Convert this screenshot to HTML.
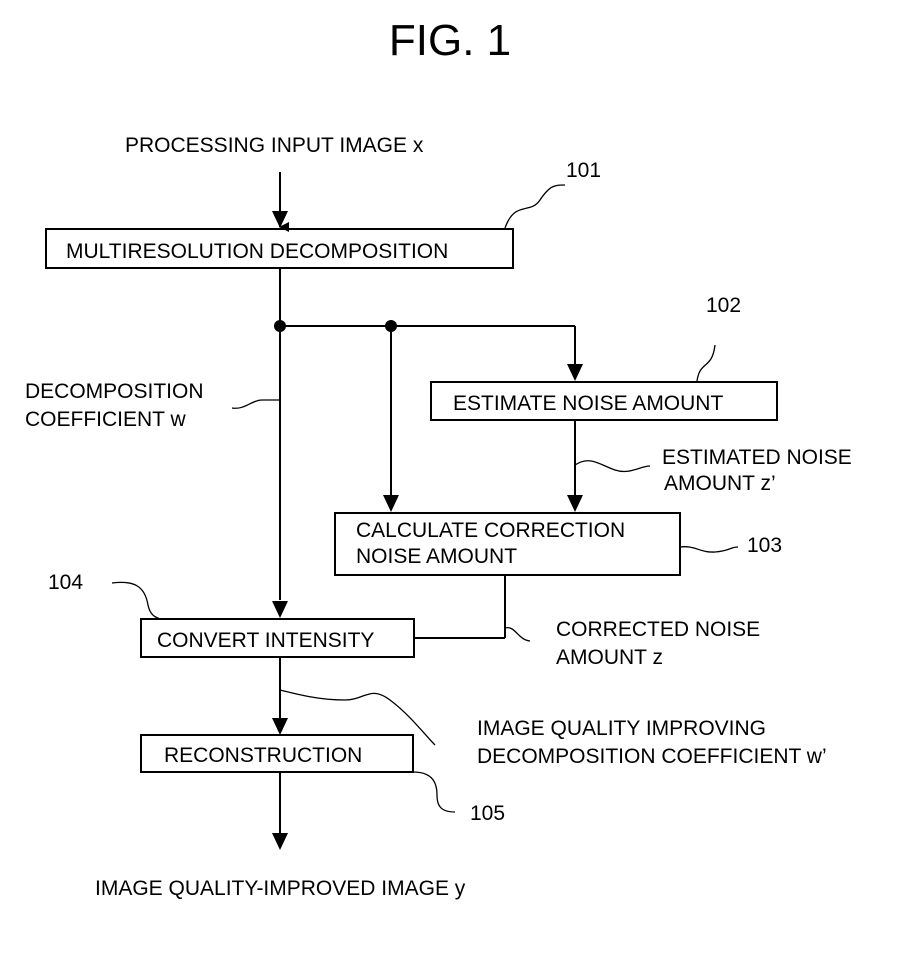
<!DOCTYPE html>
<html><head><meta charset="utf-8"><style>
body{margin:0;background:#fff;}
svg text{font-family:"Liberation Sans",sans-serif;fill:#000;}
</style></head><body>
<svg width="921" height="969" viewBox="0 0 921 969" xmlns="http://www.w3.org/2000/svg">
<defs><marker id="a" markerWidth="10" markerHeight="10" refX="5" refY="9" orient="auto" markerUnits="userSpaceOnUse"><path d="M0,0 L10,0 L5,10 z" fill="#000"/></marker></defs>
<g stroke="#000" stroke-width="2" fill="none">
<text x="450" y="55" font-size="44" text-anchor="middle" stroke="none">FIG. 1</text>
<line x1="280" y1="172" x2="280" y2="227" marker-end="url(#a)"/>
<line x1="280" y1="172" x2="280" y2="227"/>
<path d="M272,211 L288,211 L280,228z" fill="#000" stroke="none"/>
<rect x="46" y="229" width="467" height="39"/>
<line x1="280" y1="268" x2="280" y2="600"/>
<path d="M272,601 L288,601 L280,618z" fill="#000" stroke="none"/>
<line x1="280" y1="326" x2="575" y2="326"/>
<circle cx="280" cy="326" r="6" fill="#000" stroke="none"/>
<circle cx="391" cy="326" r="6" fill="#000" stroke="none"/>
<line x1="391" y1="326" x2="391" y2="495"/>
<path d="M383,495 L399,495 L391,512z" fill="#000" stroke="none"/>
<line x1="575" y1="326" x2="575" y2="364"/>
<path d="M567,364 L583,364 L575,381z" fill="#000" stroke="none"/>
<rect x="431" y="382" width="346" height="38"/>
<line x1="575" y1="420" x2="575" y2="495"/>
<path d="M567,495 L583,495 L575,512z" fill="#000" stroke="none"/>
<rect x="335" y="513" width="345" height="62"/>
<line x1="505" y1="575" x2="505" y2="638"/>
<line x1="505" y1="638" x2="414" y2="638"/>
<rect x="141" y="619" width="273" height="38"/>
<line x1="280" y1="657" x2="280" y2="718"/>
<path d="M272,718 L288,718 L280,735z" fill="#000" stroke="none"/>
<rect x="141" y="735" width="272" height="37"/>
<line x1="280" y1="772" x2="280" y2="833"/>
<path d="M272,833 L288,833 L280,850z" fill="#000" stroke="none"/>
<g stroke-width="1.3">
<path d="M505,228 C515,200 530,215 540,200 S555,185 565,185"/>
<path d="M232,408 C245,410 252,400 262,400 S272,400 280,400"/>
<path d="M697,381 C700,360 712,370 715,345"/>
<path d="M575,465 C590,455 600,465 615,470 C630,475 640,466 650,466"/>
<path d="M680,547 C695,545 700,553 715,552 S730,547 738,547"/>
<path d="M505,628 C515,625 518,640 530,641"/>
<path d="M112,583 C135,580 145,587 148,605 C150,615 155,617 160,619"/>
<path d="M280,690 C300,695 320,700 345,700 C365,700 370,685 390,700 C410,715 425,735 435,745"/>
<path d="M413,772 C430,772 437,780 437,795 C437,805 440,812 455,812"/>
</g>
</g>
<g font-size="21">
<text x="125" y="152">PROCESSING INPUT IMAGE x</text>
<text x="566" y="177">101</text>
<text x="66" y="258">MULTIRESOLUTION DECOMPOSITION</text>
<text x="706" y="312">102</text>
<text x="25" y="398">DECOMPOSITION</text>
<text x="25" y="426">COEFFICIENT w</text>
<text x="453" y="410">ESTIMATE NOISE AMOUNT</text>
<text x="662" y="464">ESTIMATED NOISE</text>
<text x="664" y="490">AMOUNT z’</text>
<text x="356" y="537">CALCULATE CORRECTION</text>
<text x="356" y="563">NOISE AMOUNT</text>
<text x="747" y="552">103</text>
<text x="48" y="589">104</text>
<text x="157" y="647">CONVERT INTENSITY</text>
<text x="556" y="636">CORRECTED NOISE</text>
<text x="556" y="664">AMOUNT z</text>
<text x="477" y="735">IMAGE QUALITY IMPROVING</text>
<text x="477" y="763">DECOMPOSITION COEFFICIENT w’</text>
<text x="164" y="762">RECONSTRUCTION</text>
<text x="470" y="820">105</text>
<text x="95" y="895">IMAGE QUALITY-IMPROVED IMAGE y</text>
</g>
</svg>
</body></html>
